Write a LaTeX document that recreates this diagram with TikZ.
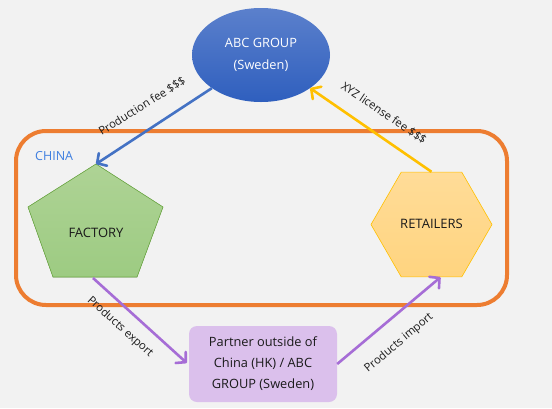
\documentclass[tikz,border=0pt]{standalone}
\usepackage{fontspec}
\setmainfont{Open Sans}
\usetikzlibrary{shapes.geometric,arrows.meta,calc}
\definecolor{bgc}{HTML}{F2F2F2}
\definecolor{orng}{HTML}{ED7D31}
\definecolor{blu}{HTML}{4472C4}
\definecolor{bluT}{HTML}{5B80CC}
\definecolor{bluB}{HTML}{2F5FBE}
\definecolor{chinac}{HTML}{3F7FE0}
\definecolor{grnT}{HTML}{AED395}
\definecolor{grnB}{HTML}{9DCB82}
\definecolor{grnE}{HTML}{70AD47}
\definecolor{ylwT}{HTML}{FFDC98}
\definecolor{ylwB}{HTML}{FFD47F}
\definecolor{ylwE}{HTML}{FFC000}
\definecolor{gold}{HTML}{FFC000}
\definecolor{purp}{HTML}{A66DD6}
\definecolor{purpF}{HTML}{DBC0EC}
\definecolor{txt}{HTML}{1A1A1A}
\tikzset{
  conn/.style={line width=2.6pt, -{Straight Barb[length=7pt,width=15pt,round]}},
  lbl/.style={font=\fontsize{11.3}{12}\selectfont, text=txt, inner sep=1pt},
  boxtext/.style={font=\fontsize{13}{15}\selectfont, text=txt}
}
\begin{document}
\begin{tikzpicture}[x=1pt,y=-1pt]
\fill[bgc] (0,0) rectangle (552,408);
\useasboundingbox (0,0) rectangle (552,408);
% China region
\draw[orng, line width=4pt, rounded corners=30pt] (16,131) rectangle (507,305);
\node[anchor=west, text=chinac, font=\fontsize{12.5}{14}\selectfont, inner sep=0] (china) at (35,156) {CHINA};
% ABC group
\node[ellipse, minimum width=138pt, minimum height=94pt, inner sep=0,
      top color=bluT, bottom color=bluB, draw=none,
      text=white, font=\fontsize{12.8}{22}\selectfont, align=center] (abc) at (261,55) {ABC GROUP\\(Sweden)};
% Factory pentagon
\coordinate (ftop) at (96,164);
\coordinate (fbot) at (93,278);
\fill[top color=grnT, bottom color=grnB] (96,164) -- (163,207) -- (137,277) -- (53,277) -- (28,207) -- cycle;
\draw[grnE, line width=0.6pt] (96,164) -- (163,207) -- (137,277) -- (53,277) -- (28,207) -- cycle;
\node[boxtext] (factory) at (96,233) {FACTORY};
% Retailers hexagon
\node[regular polygon, regular polygon sides=6, minimum size=121pt, inner sep=0,
      top color=ylwT, bottom color=ylwB, draw=ylwE, line width=0.6pt] (retail) at (431.5,224.5) {};
\node[boxtext] (rettext) at (431.5,224) {RETAILERS};
% Partner box
\node[rounded corners=8pt, fill=purpF, minimum width=148pt, minimum height=76pt, inner sep=0,
      align=center, boxtext, font=\fontsize{12.8}{21}\selectfont] (partner) at (263,364)
      {Partner outside of\\China (HK) / ABC\\GROUP (Sweden)};
% Connectors
\draw[conn, blu] (abc.214) -- (ftop);
\node[lbl, rotate=32] at (142,106) {Production fee \$\$\$};
\draw[conn, gold] (retail.north) -- (abc.326);
\node[lbl, rotate=-34] at (384,113) {XYZ license fee \$\$\$};
\draw[conn, purp] (fbot) -- ($(partner.west)+(-2,-1)$);
\node[lbl, rotate=-42] at (120,327) {Products export};
\draw[conn, purp] (partner.east) -- ($(retail.south)+(9,0)$);
\node[lbl, rotate=40] at (399,343) {Products import};
\end{tikzpicture}
\end{document}
